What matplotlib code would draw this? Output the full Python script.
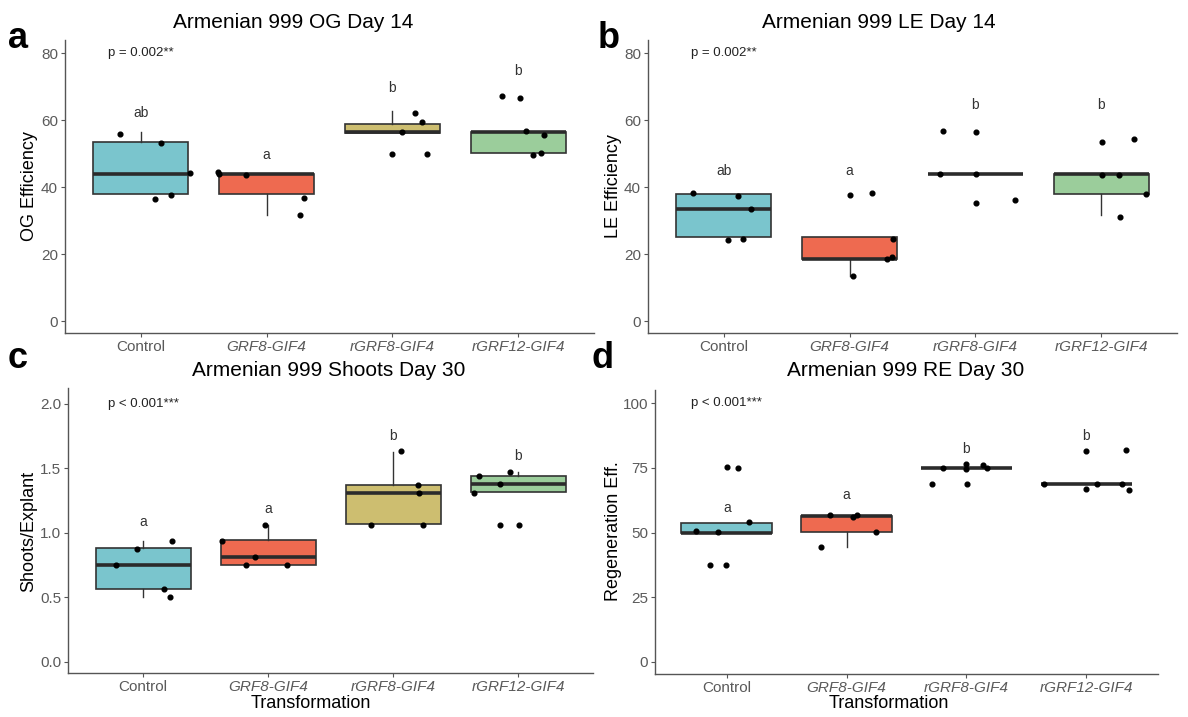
import matplotlib
matplotlib.use("Agg")
import matplotlib.pyplot as plt

plt.rcParams['font.family'] = ['Liberation Sans', 'DejaVu Sans']

W, H = 1188, 717

groups = ["Control", "GRF8-GIF4", "rGRF8-GIF4", "rGRF12-GIF4"]
fills = ["#7AC5CD", "#EE6A50", "#CDBE70", "#9BCD9B"]

# ---- OG efficiency, day 14 ----
og_q1 = [37.9, 37.9, 56.3, 50.2]
og_med = [43.9, 44.0, 56.5, 56.6]
og_q3 = [53.6, 44.0, 58.9, 56.6]
og_lo = [37.9, 31.7, 56.3, 50.2]
og_hi = [56.4, 44.0, 62.7, 56.6]
og_pts = [[56.0, 53.3, 44.4, 36.6, 37.8],
          [44.7, 44.0, 43.6, 36.9, 31.6],
          [62.3, 59.4, 56.6, 50.1, 49.9],
          [67.4, 66.8, 56.8, 55.6, 49.7, 50.2]]
og_jit = [[-0.167, 0.159, 0.394, 0.116, 0.238],
          [-0.389, -0.381, -0.164, 0.294, 0.262],
          [0.18, 0.238, 0.079, 0.0, 0.275],
          [-0.127, 0.011, 0.058, 0.206, 0.116, 0.18]]
og_letters = ["ab", "a", "b", "b"]
og_letter_y = [62.2, 49.6, 69.8, 74.7]

# ---- LE efficiency, day 14 ----
le_q1 = [25.2, 18.7, 44.0, 37.9]
le_med = [33.4, 18.7, 44.0, 44.0]
le_q3 = [37.9, 25.2, 44.0, 44.0]
le_lo = [25.2, 13.4, 44.0, 31.7]
le_hi = [37.9, 25.2, 44.0, 44.0]
le_pts = [[38.4, 37.4, 33.4, 24.4, 24.6],
          [37.8, 38.2, 24.6, 19.3, 18.7, 13.4],
          [56.7, 56.4, 44.1, 44.1, 35.4, 36.1],
          [53.5, 54.3, 43.8, 43.6, 37.9, 31.1]]
le_jit = [[-0.246, 0.116, 0.217, 0.032, 0.153],
          [0.0, 0.175, 0.347, 0.339, 0.294, 0.024],
          [-0.257, 0.005, -0.283, 0.005, 0.005, 0.312],
          [0.005, 0.262, 0.005, 0.14, 0.354, 0.146]]
le_letters = ["ab", "a", "b", "b"]
le_letter_y = [44.8, 44.8, 64.7, 64.7]

# ---- shoots per explant, day 30 ----
sh_q1 = [0.563, 0.748, 1.066, 1.316]
sh_med = [0.748, 0.810, 1.310, 1.375]
sh_q3 = [0.882, 0.942, 1.372, 1.442]
sh_lo = [0.503, 0.748, 1.066, 1.316]
sh_hi = [0.934, 1.063, 1.625, 1.47]
sh_pts = [[0.753, 0.877, 0.934, 0.563, 0.498],
          [0.939, 0.810, 0.748, 0.748, 1.063],
          [1.630, 1.372, 1.310, 1.063, 1.063],
          [1.442, 1.47, 1.375, 1.31, 1.063, 1.063]]
sh_jit = [[-0.214, -0.051, 0.235, 0.166, 0.219],
          [-0.369, -0.107, -0.179, 0.155, -0.027],
          [0.067, 0.201, 0.209, -0.174, 0.241],
          [-0.31, -0.067, -0.145, -0.355, -0.145, 0.005]]
sh_letters = ["a", "a", "b", "b"]
sh_letter_y = [1.084, 1.187, 1.747, 1.592]

# ---- regeneration efficiency, day 30 ----
re_q1 = [50.0, 50.3, 75.0, 68.75]
re_med = [50.0, 56.5, 75.0, 68.75]
re_q3 = [53.7, 56.5, 75.0, 68.75]
re_lo = [50.0, 44.4, 75.0, 68.75]
re_hi = [53.7, 56.5, 75.0, 68.75]
re_pts = [[75.3, 75.1, 53.9, 50.6, 50.3, 37.3, 37.5],
          [56.8, 56.0, 56.6, 44.4, 50.1],
          [75.0, 76.4, 74.6, 76.1, 74.8, 68.9, 68.9],
          [81.5, 82.0, 66.9, 68.7, 68.9, 66.5, 68.9]]
re_jit = [[0.0, 0.092, 0.189, -0.256, -0.075, -0.139, -0.006],
          [-0.139, 0.056, 0.089, -0.217, 0.245],
          [-0.195, 0.0, 0.0, 0.139, 0.173, -0.284, 0.006],
          [0.0, 0.334, 0.0, 0.089, 0.298, 0.362, -0.356]]
re_letters = ["a", "a", "b", "b"]
re_letter_y = [59.5, 64.6, 82.3, 87.5]


def px_axes(fig, left, right, top, bottom):
    return fig.add_axes([left / W, 1 - bottom / H, (right - left) / W, (bottom - top) / H])


def draw_panel(ax, q1, med, q3, lo, hi, pts, jit, letters, letter_y,
               ylim, yticks, ytlabels, ptext, py):
    stats = []
    for i in range(4):
        stats.append({"q1": q1[i], "med": med[i], "q3": q3[i],
                      "whislo": lo[i], "whishi": hi[i], "fliers": []})
    bp = ax.bxp(stats, positions=range(1, 5), widths=0.76, patch_artist=True,
                showcaps=False, showfliers=False,
                boxprops=dict(edgecolor="#333333", linewidth=1.2),
                whiskerprops=dict(color="#333333", linewidth=1.0),
                medianprops=dict(color="#2b2b2b", linewidth=2.6, solid_capstyle="butt"))
    for patch, c in zip(bp["boxes"], fills):
        patch.set_facecolor(c)
    for i in range(4):
        xs = [i + 1 + d for d in jit[i]]
        ax.plot(xs, pts[i], "o", color="black", markersize=3.4, zorder=5)
        ax.text(i + 1, letter_y[i], letters[i], ha="center", va="center",
                fontsize=10, color="#333333")
    ax.text(1, py, ptext, ha="center", va="center", fontsize=9.5, color="#222222")

    ax.set_xlim(0.4, 4.6)
    ax.set_ylim(*ylim)
    ax.set_yticks(yticks)
    ax.set_yticklabels(ytlabels)
    ax.set_xticks(range(1, 5))
    ax.set_xticklabels(groups)
    for lab in ax.get_xticklabels()[1:]:
        lab.set_style("italic")
    for s in ["top", "right"]:
        ax.spines[s].set_visible(False)
    for s in ["left", "bottom"]:
        ax.spines[s].set_color("#555555")
        ax.spines[s].set_linewidth(1.0)
    ax.tick_params(axis="both", colors="#555555", length=3, width=0.8,
                   labelsize=11, labelcolor="#5a5a5a", pad=2)


fig = plt.figure(figsize=(W / 100, H / 100), dpi=100)

ax_a = px_axes(fig, 65, 594, 40, 333)
draw_panel(ax_a, og_q1, og_med, og_q3, og_lo, og_hi, og_pts, og_jit,
           og_letters, og_letter_y, (-3.5, 84), [0, 20, 40, 60, 80],
           ["0", "20", "40", "60", "80"], "p = 0.002**", 80)

ax_b = px_axes(fig, 648, 1177, 40, 333)
draw_panel(ax_b, le_q1, le_med, le_q3, le_lo, le_hi, le_pts, le_jit,
           le_letters, le_letter_y, (-3.5, 84), [0, 20, 40, 60, 80],
           ["0", "20", "40", "60", "80"], "p = 0.002**", 80)

ax_c = px_axes(fig, 68, 593, 388, 673)
draw_panel(ax_c, sh_q1, sh_med, sh_q3, sh_lo, sh_hi, sh_pts, sh_jit,
           sh_letters, sh_letter_y, (-0.0875, 2.1215), [0, 0.5, 1.0, 1.5, 2.0],
           ["0.0", "0.5", "1.0", "1.5", "2.0"], "p < 0.001***", 2.0)

ax_d = px_axes(fig, 655, 1158, 390, 674)
draw_panel(ax_d, re_q1, re_med, re_q3, re_lo, re_hi, re_pts, re_jit,
           re_letters, re_letter_y, (-4.8, 105.2), [0, 25, 50, 75, 100],
           ["0", "25", "50", "75", "100"], "p < 0.001***", 100)


def ftext(x, y, s, **kw):
    fig.text(x / W, 1 - y / H, s, **kw)


# titles
ftext(293, 22, "Armenian 999 OG Day 14", ha="center", va="center", fontsize=15)
ftext(879, 22, "Armenian 999 LE Day 14", ha="center", va="center", fontsize=15)
ftext(329, 371, "Armenian 999 Shoots Day 30", ha="center", va="center", fontsize=15)
ftext(906, 371, "Armenian 999 RE Day 30", ha="center", va="center", fontsize=15)

# y labels
ftext(29, 186, "OG Efficiency", ha="center", va="center", rotation=90, fontsize=13)
ftext(613, 186, "LE Efficiency", ha="center", va="center", rotation=90, fontsize=13)
ftext(29, 531, "Shoots/Explant", ha="center", va="center", rotation=90, fontsize=13)
ftext(613, 531, "Regeneration Eff.", ha="center", va="center", rotation=90, fontsize=13)

# x labels
ftext(311, 704, "Transformation", ha="center", va="center", fontsize=13)
ftext(889, 704, "Transformation", ha="center", va="center", fontsize=13)

# panel letters
for x, y, s in [(18, 48, "a"), (609, 48, "b"), (18, 368, "c"), (603, 368, "d")]:
    ftext(x, y, s, ha="center", va="baseline", fontsize=26, fontweight="bold")

fig.savefig("out.png", dpi=100)
